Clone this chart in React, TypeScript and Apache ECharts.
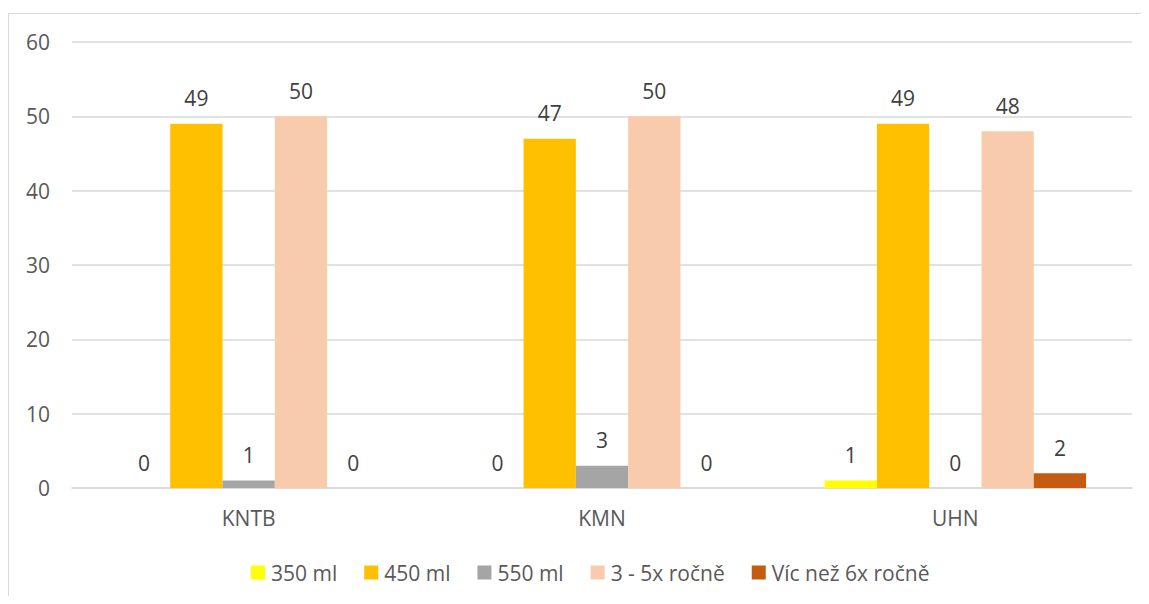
import React, { useEffect, useRef } from "react";
import * as echarts from "echarts";

const categories = ["KNTB", "KMN", "UHN"];
const seriesNames = ["350 ml", "450 ml", "550 ml", "3 - 5x ročně", "Víc než 6x ročně"];
const ml350 = [0, 0, 1];
const ml450 = [49, 47, 49];
const ml550 = [1, 3, 0];
const times3to5 = [50, 50, 48];
const over6 = [0, 0, 2];
const colors = ["#FFFF00", "#FFC000", "#A5A5A5", "#F8CBAD", "#C55A11"];
const yTicks = [0, 10, 20, 30, 40, 50, 60];

const FONT = "'Open Sans', 'Noto Sans', sans-serif";
const FS = 21;

export default function App() {
  const ref = useRef<HTMLDivElement>(null);

  useEffect(() => {
    if (!ref.current) return;
    const chart = echarts.init(ref.current, undefined, { renderer: "svg" });
    const values = [ml350, ml450, ml550, times3to5, over6];
    chart.setOption({
      animation: false,
      textStyle: { fontFamily: FONT },
      grid: { left: 72, right: 17, top: 42, bottom: 116, containLabel: false },
      legend: {
        bottom: 16,
        left: 246,
        itemWidth: 14,
        itemHeight: 14,
        itemGap: 27,
        icon: "rect",
        textStyle: { color: "#595959", fontSize: FS, fontFamily: FONT, padding: [0, 0, 0, 1] },
        data: seriesNames,
      },
      xAxis: {
        type: "category",
        data: categories,
        axisLine: { show: true, lineStyle: { color: "#D9D9D9", width: 1.5 } },
        axisTick: { show: false },
        axisLabel: { color: "#595959", fontSize: FS, margin: 19, fontFamily: FONT },
      },
      yAxis: {
        type: "value",
        min: yTicks[0],
        max: yTicks[yTicks.length - 1],
        interval: 10,
        axisLine: { show: false },
        axisTick: { show: false },
        axisLabel: { color: "#595959", fontSize: FS, margin: 22, fontFamily: FONT },
        splitLine: { lineStyle: { color: "#D9D9D9", width: 1.5 } },
      },
      series: seriesNames.map((name, i) => ({
        name,
        type: "bar",
        data: values[i],
        barGap: "0%",
        barCategoryGap: "26%",
        itemStyle: { color: colors[i] },
        label: {
          show: true,
          position: "top",
          distance: 15,
          color: "#404040",
          fontSize: FS,
          fontFamily: FONT,
        },
      })),
    });
    return () => chart.dispose();
  }, []);

  return (
    <div style={{ position: "relative", width: 1149, height: 604, margin: -8, overflow: "hidden", background: "#fff" }}>
      <div
        style={{
          position: "absolute",
          left: 8,
          top: 13,
          width: 1160,
          height: 620,
          border: "1px solid #D9D9D9",
          boxSizing: "border-box",
        }}
      />
      <div ref={ref} style={{ position: "absolute", left: 0, top: 0, width: 1149, height: 604 }} />
    </div>
  );
}
